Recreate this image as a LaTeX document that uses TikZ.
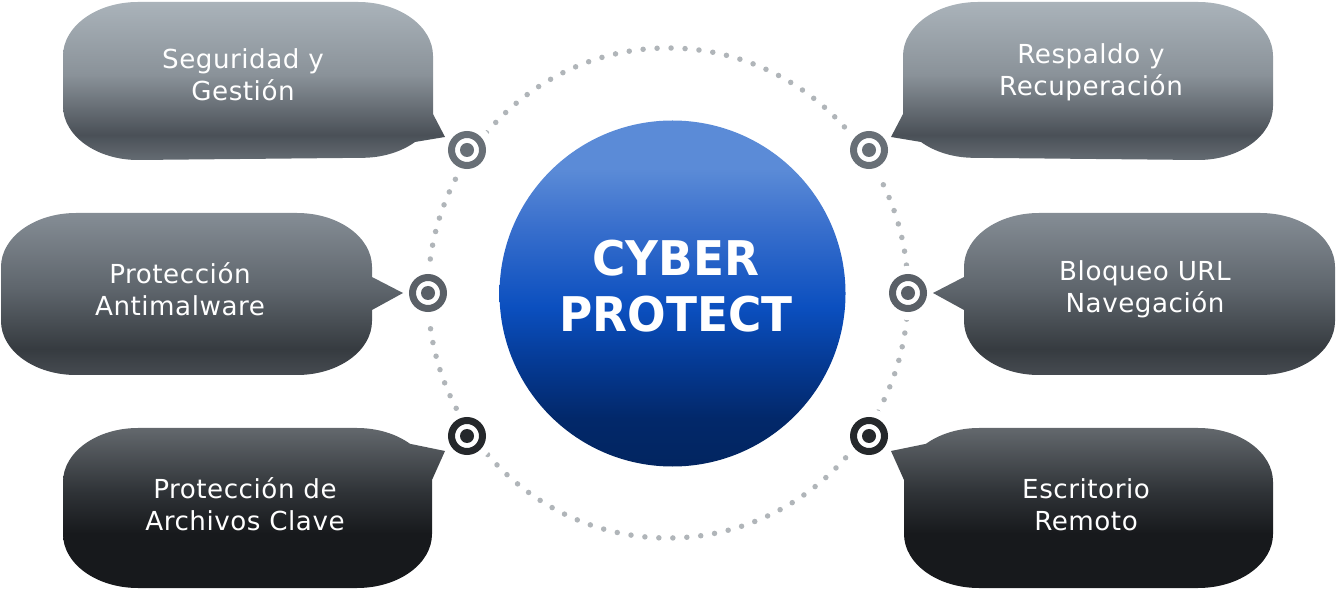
\documentclass[tikz,border=0pt]{standalone}
\usepackage{fontspec}
\setmainfont{DejaVu Sans}
\newfontfamily\lblfont[LetterSpace=2]{DejaVu Sans}
\newfontfamily\titlefont[FakeStretch=0.95]{DejaVu Sans}
\usepackage{xcolor}
\usepackage{tikz}

\definecolor{dotc}{HTML}{B0B5B9}
\definecolor{tgtA}{HTML}{686F76}
\definecolor{tgtB}{HTML}{5A6067}
\definecolor{tgtC}{HTML}{25282B}
% bubble tones
\definecolor{topL}{HTML}{AAB3BA}
\definecolor{topM}{HTML}{8A9299}
\definecolor{topK}{HTML}{4A5057}
\definecolor{topD}{HTML}{646B72}
\definecolor{midL}{HTML}{858D95}
\definecolor{midM}{HTML}{5F666D}
\definecolor{midK}{HTML}{363B40}
\definecolor{midD}{HTML}{464B51}
\definecolor{botL}{HTML}{63686D}
\definecolor{botM}{HTML}{2F3337}
\definecolor{botK}{HTML}{17191C}
% core tones
\definecolor{coreA}{HTML}{5B8BD7}
\definecolor{coreB}{HTML}{3A70CD}
\definecolor{coreC}{HTML}{0B4FBF}
\definecolor{coreD}{HTML}{053A94}
\definecolor{coreE}{HTML}{02286A}
\definecolor{coreF}{HTML}{022560}

\pgfdeclareverticalshading{bubtop}{100bp}{color(0bp)=(topD); color(25bp)=(topD); color(33bp)=(topK); color(52bp)=(topM); color(75bp)=(topL); color(100bp)=(topL)}
\pgfdeclareverticalshading{bubmid}{100bp}{color(0bp)=(midD); color(25bp)=(midD); color(33bp)=(midK); color(52bp)=(midM); color(75bp)=(midL); color(100bp)=(midL)}
\pgfdeclareverticalshading{bubbot}{100bp}{color(0bp)=(botK); color(25bp)=(botK); color(42bp)=(botK); color(55bp)=(botM); color(75bp)=(botL); color(100bp)=(botL)}
\pgfdeclareverticalshading{core}{100bp}{color(0bp)=(coreF); color(25bp)=(coreF); color(32bp)=(coreE); color(40bp)=(coreD); color(48bp)=(coreC); color(60bp)=(coreB); color(68bp)=(coreA); color(100bp)=(coreA)}

% left bubbles, the right ones are mirrored
\newcommand{\toppath}{(63,482) -- (63,532) arc[start angle=180, end angle=90, x radius=75, y radius=54] -- (358,586) arc[start angle=90, end angle=0, x radius=75, y radius=54] -- (433,474) -- (445,451) -- (415,446) arc[start angle=-45, end angle=-90, x radius=75, y radius=54] -- (138,428) arc[start angle=270, end angle=180, x radius=75, y radius=54] -- cycle}
\newcommand{\midpath}{(1,267) -- (1,321) arc[start angle=180, end angle=90, x radius=75, y radius=54] -- (297,375) arc[start angle=90, end angle=0, x radius=75, y radius=54] -- (372,311) -- (403,295) -- (372,278) -- (372,267) arc[start angle=0, end angle=-90, x radius=75, y radius=54] -- (76,213) arc[start angle=270, end angle=180, x radius=75, y radius=54] -- cycle}
\newcommand{\botpath}{(63,54) -- (63,106) arc[start angle=180, end angle=90, x radius=75, y radius=54] -- (357,160) arc[start angle=90, end angle=45, x radius=75, y radius=54] -- (445,137) -- (432,108) -- (432,54) arc[start angle=0, end angle=-90, x radius=75, y radius=54] -- (138,0) arc[start angle=270, end angle=180, x radius=75, y radius=54] -- cycle}

\begin{document}
\begin{tikzpicture}[x=0.02cm, y=0.02cm]
\tikzstyle{lbl}=[text=white, align=center, inner sep=0pt, font=\lblfont\fontsize{14.9}{18.1}\selectfont]
\tikzstyle{title}=[text=white, align=center, inner sep=0pt, font=\titlefont\bfseries\fontsize{27.2}{31.7}\selectfont]
\tikzset{target/.style={circle, draw=#1, line width=0.14cm, minimum size=0.62cm, inner sep=0pt,
  preaction={draw=white, line width=0.46cm}}}
\useasboundingbox (0,0) rectangle (1337,588);

% dotted ring
\draw[dotc, line width=0.11cm, line cap=round, dash pattern=on 0pt off 0.28cm] (668,295) ellipse [x radius=240, y radius=245];

\node[target=tgtA] (t1) at (467,438) {};
\node[target=tgtB] (t2) at (428,295) {};
\node[target=tgtC] (t3) at (467,152) {};
\node[target=tgtA] (t4) at (869,438) {};
\node[target=tgtB] (t5) at (908,295) {};
\node[target=tgtC] (t6) at (869,152) {};
\fill[tgtA] (t1) circle (7) (t4) circle (7);
\fill[tgtB] (t2) circle (7) (t5) circle (7);
\fill[tgtC] (t3) circle (7) (t6) circle (7);

% bubbles
\shade[shading=bubtop] \toppath;
\shade[shading=bubmid] \midpath;
\shade[shading=bubbot] \botpath;
\begin{scope}[shift={(1336,0)}, xscale=-1]
\shade[shading=bubtop] \toppath;
\shade[shading=bubmid] \midpath;
\shade[shading=bubbot] \botpath;
\end{scope}

% centre
\shade[shading=core] (672.5,294.5) circle (173);
\node[title] (cp) at (676,302) {CYBER\\PROTECT};

\node[lbl] (seg) at (243,513) {Seguridad y\\Gestión};
\node[lbl] (res) at (1091,516) {Respaldo y\\Recuperación};
\node[lbl] (anti) at (180,299) {Protección\\Antimalware};
\node[lbl] (url) at (1145,299) {Bloqueo URL\\Navegación};
\node[lbl] (fil) at (245,84) {Protección de\\Archivos Clave};
\node[lbl] (rem) at (1086,83) {Escritorio\\Remoto};

\end{tikzpicture}
\end{document}
